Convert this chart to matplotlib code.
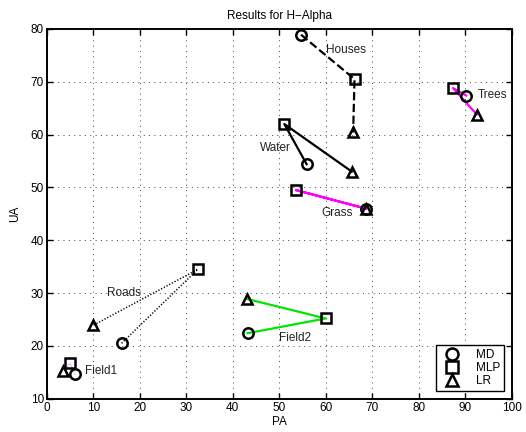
import numpy as np
import matplotlib
matplotlib.use('Agg')
import matplotlib.pyplot as plt

plt.rcParams['font.family'] = ['Liberation Sans', 'DejaVu Sans']

# classes and accuracies (PA, UA) per method
classes = ['Houses', 'Water', 'Trees', 'Grass', 'Roads', 'Field2', 'Field1']
md_pa = [54.7, 55.9, 90.2, 68.6, 16.1, 43.2, 6.1]
md_ua = [78.9, 54.4, 67.4, 46.0, 20.5, 22.4, 14.6]
mlp_pa = [66.2, 51.1, 87.4, 53.6, 32.5, 60.0, 5.0]
mlp_ua = [70.5, 62.0, 68.8, 49.5, 34.5, 25.2, 16.7]
lr_pa = [65.9, 65.6, 92.5, 68.6, 10.0, 43.0, 3.6]
lr_ua = [60.4, 53.0, 63.8, 46.0, 23.9, 28.9, 15.3]

# line style for each class
line_colors = ['black', 'black', 'magenta', 'magenta', 'black', '#00e600', 'magenta']
line_styles = ['--', '-', '-', '-', (0, (0.8, 1.2)), '-', ':']
line_widths = [1.6, 1.6, 1.6, 1.6, 1.1, 1.6, 0.6]

# label positions (x is left edge)
label_x = [60.0, 45.9, 92.6, 59.0, 12.9, 50.0, 8.2]
label_y = [76.0, 57.5, 67.5, 45.2, 30.0, 21.5, 15.3]

fig = plt.figure(figsize=(5.26, 4.32), dpi=100)
ax = fig.add_axes([0.0888, 0.077, 0.884, 0.856])

for i, name in enumerate(classes):
    xs = [md_pa[i], mlp_pa[i], lr_pa[i]]
    ys = [md_ua[i], mlp_ua[i], lr_ua[i]]
    ax.plot(xs, ys, color=line_colors[i], linestyle=line_styles[i],
            linewidth=line_widths[i], zorder=2)
    ax.text(label_x[i], label_y[i], name, fontsize=8.5, ha='left', va='center',
            color='#222222', zorder=4)

mk = dict(linestyle='none', markerfacecolor='none', markeredgecolor='black',
          markeredgewidth=1.8, markersize=7.5, zorder=3)
ax.plot(md_pa, md_ua, marker='o', label='MD', **mk)
ax.plot(mlp_pa, mlp_ua, marker='s', label='MLP', **mk)
ax.plot(lr_pa, lr_ua, marker='^', label='LR', **mk)

ax.set_xlim(0, 100)
ax.set_ylim(10, 80)
ax.set_xticks(np.arange(0, 101, 10))
ax.set_yticks(np.arange(10, 81, 10))
ax.tick_params(direction='in', top=True, right=True, labelsize=8.5, length=4, width=1, pad=2)
ax.grid(True, linestyle=(0, (1, 4.5)), color='#444444', linewidth=0.7)
for sp in ax.spines.values():
    sp.set_linewidth(1.4)

ax.set_xlabel('PA', fontsize=8.5, labelpad=2)
ax.set_ylabel('UA', fontsize=8.5, labelpad=7)
ax.set_title('Results for H\u2212Alpha', fontsize=8.5, pad=7)

leg = ax.legend(loc='lower right', bbox_to_anchor=(0.988, 0.015), fontsize=8.5,
                frameon=True, fancybox=False, edgecolor='black', framealpha=1,
                handlelength=2.2, handletextpad=0.9, borderpad=0.3,
                labelspacing=0.1, markerscale=1.15, borderaxespad=0.2)
leg.get_frame().set_linewidth(1.0)

fig.savefig('out.png', dpi=100)
